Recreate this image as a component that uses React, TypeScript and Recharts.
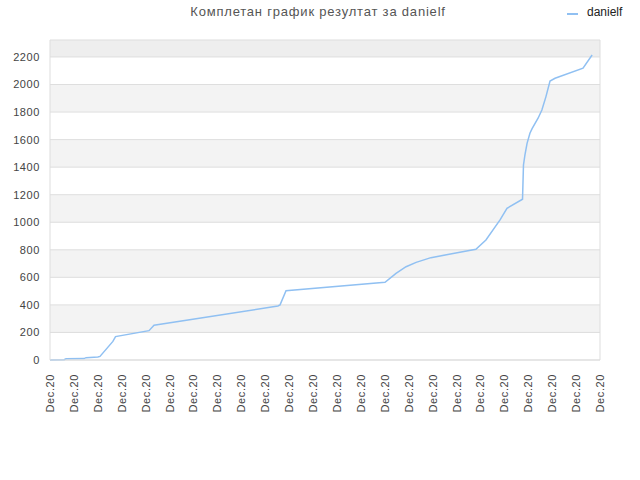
import React from "react";
import {
  LineChart,
  Line,
  XAxis,
  YAxis,
  ReferenceArea,
  ReferenceLine,
} from "recharts";

// x position in tick units (0 = first "Dec.20" tick, 23 = last), y = score
const pointX = [
  0, 0.59, 0.67, 1.42, 1.51, 2.0, 2.09, 2.63, 2.74, 4.14, 4.35, 9.53, 9.62,
  9.87, 14.01, 14.47, 14.89, 15.31, 15.93, 17.81, 18.23, 18.82, 19.11, 19.76,
  19.8, 19.86, 19.95, 20.07, 20.16, 20.41, 20.57, 20.74, 20.91, 21.12, 22.29,
  22.67,
];
const pointY = [
  0, 2, 9, 10, 17, 22, 26, 135, 170, 213, 252, 392, 400, 503, 564, 629, 677,
  709, 743, 804, 871, 1017, 1101, 1167, 1416, 1488, 1573, 1646, 1680, 1755,
  1815, 1912, 2025, 2045, 2118, 2214,
];
const xTicks = Array.from({ length: 24 }, (_, i) => i);
const xTickLabel = "Dec.20";
const yTicks = [0, 200, 400, 600, 800, 1000, 1200, 1400, 1600, 1800, 2000, 2200];
const Y_MAX = 2323;

const LINE_COLOR = "#90c0f2";
const FONT = "'Liberation Sans', Arial, sans-serif";

const data = pointX.map((x, i) => ({ x, score: pointY[i] }));

// eslint-disable-next-line @typescript-eslint/no-explicit-any
function XTick(props: any) {
  const { x, y } = props;
  return (
    <text
      transform={`translate(${x + 4},${y + 6}) rotate(-90)`}
      textAnchor="end"
      fontSize={11}
      fill="#444"
      fontFamily={FONT}
      style={{ letterSpacing: 0.6 }}
    >
      {xTickLabel}
    </text>
  );
}

// eslint-disable-next-line @typescript-eslint/no-explicit-any
function YTick(props: any) {
  const { y, payload } = props;
  return (
    <text
      x={40}
      y={y + 4}
      textAnchor="end"
      fontSize={11}
      fill="#444"
      fontFamily={FONT}
      style={{ letterSpacing: 0.6 }}
    >
      {payload.value}
    </text>
  );
}

export default function App() {
  // bands: gray on 200-400, 600-800 ..., darker above last tick
  const bands = yTicks.filter((_, i) => i % 2 === 1);
  return (
    <div
      style={{
        position: "absolute",
        left: 0,
        top: 0,
        width: 640,
        height: 480,
        background: "#fff",
        fontFamily: FONT,
      }}
    >
      <div
        style={{
          position: "absolute",
          top: 4,
          left: 0,
          width: 636,
          textAlign: "center",
          fontSize: 13,
          color: "#555",
          letterSpacing: 0.8,
        }}
      >
        Комплетан график резултат за danielf
      </div>
      <div
        style={{
          position: "absolute",
          top: 5,
          left: 567,
          fontSize: 12,
          color: "#222",
          display: "flex",
          alignItems: "center",
        }}
      >
        <span
          style={{
            display: "inline-block",
            width: 11,
            height: 2,
            background: LINE_COLOR,
            marginRight: 9,
            marginTop: 3,
          }}
        />
        danielf
      </div>
      <LineChart
        width={640}
        height={480}
        data={data}
        margin={{ top: 40, right: 40, bottom: 0, left: 0 }}
      >
        {bands.map((b) => (
          <ReferenceArea
            key={b}
            y1={b}
            y2={b + 200}
            fill="#f3f3f3"
            fillOpacity={1}
            stroke="none"
            ifOverflow="hidden"
          />
        ))}
        <ReferenceArea
          y1={2200}
          y2={Y_MAX}
          fill="#eeeeee"
          fillOpacity={1}
          stroke="none"
        />
        {yTicks.map((t) => (
          <ReferenceLine key={t} y={t} stroke="#dedede" strokeWidth={1} />
        ))}
        <ReferenceLine y={Y_MAX} stroke="#dddddd" />
        <ReferenceLine x={23} stroke="#dddddd" />
        <XAxis
          dataKey="x"
          type="number"
          domain={[0, 23]}
          ticks={xTicks}
          interval={0}
          tick={<XTick />}
          tickLine={false}
          axisLine={{ stroke: "#dddddd" }}
          height={120}
        />
        <YAxis
          type="number"
          domain={[0, Y_MAX]}
          ticks={yTicks}
          interval={0}
          tick={<YTick />}
          tickLine={false}
          axisLine={{ stroke: "#dddddd" }}
          width={50}
        />
        <Line
          type="linear"
          dataKey="score"
          stroke={LINE_COLOR}
          strokeWidth={1.5}
          dot={false}
          isAnimationActive={false}
        />
      </LineChart>
    </div>
  );
}
